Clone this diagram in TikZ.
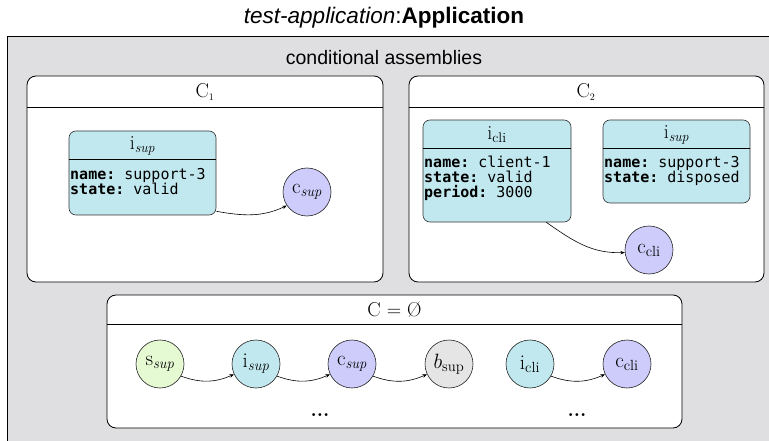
\documentclass[tikz,border=0pt]{standalone}
\usepackage{fontspec}
\setsansfont{Liberation Sans}
\setmonofont{DejaVu Sans Mono}
\usetikzlibrary{arrows.meta}
\definecolor{bggray}{HTML}{DFDFE1}
\definecolor{instcyan}{HTML}{C2E8EF}
\definecolor{conlav}{HTML}{CDCCFB}
\definecolor{startgreen}{HTML}{E5F9D3}
\definecolor{boundgray}{HTML}{E5E5E5}
\tikzset{
  container/.style={draw=black, fill=white, rounded corners=9pt, line width=0.8pt, inner sep=0pt},
  instbox/.style={draw=black!80, fill=instcyan, rounded corners=7pt, line width=0.6pt, inner sep=0pt},
  statecirc/.style={circle, draw=black!85, line width=0.6pt, minimum size=48pt, inner sep=0pt, font=\fontsize{21}{23}\selectfont},
  boxtitle/.style={font=\fontsize{20}{22}\selectfont, inner sep=0pt},
  bodytext/.style={font=\ttfamily\fontsize{15}{14.7}\selectfont, align=left, anchor=north west, inner sep=0pt},
  arr/.style={-{Stealth[length=4.5pt,width=3.5pt]}, line width=0.6pt},
  dotsnode/.style={font=\bfseries\fontsize{20}{22}\selectfont, inner sep=0pt},
}
\begin{document}
\begin{tikzpicture}[x=1pt,y=-1pt]
\useasboundingbox (0,0) rectangle (769,441);
\clip (0,0) rectangle (769,441);
% title
\node[font=\sffamily\fontsize{22.5}{24}\selectfont, inner sep=0pt] (title) at (384,18) {\textit{test-application}:\textbf{Application}};
% outer gray area
\node[draw=black, line width=0.8pt, fill=bggray, minimum width=780pt, minimum height=420pt, inner sep=0pt, anchor=north west] (outer) at (7,36) {};
\node[font=\sffamily\fontsize{19.5}{21}\selectfont, inner sep=0pt] (ca) at (384,58) {conditional assemblies};

% ---- C1
\node[container, minimum width=356pt, minimum height=206pt] (C1) at (205,179) {};
\draw[line width=0.8pt] ([yshift=-32pt]C1.north west) -- ([yshift=-32pt]C1.north east);
\node[boxtitle] (C1t) at (205,92) {C$_{\scriptscriptstyle 1}$};
\node[instbox, minimum width=147pt, minimum height=84pt] (b1) at (142.5,173) {};
\draw[line width=0.6pt] ([yshift=-29pt]b1.north west) -- ([yshift=-29pt]b1.north east);
\node[boxtitle] (b1t) at (142.5,146) {$\mathrm{i}_{\mathit{sup}}$};
\node[bodytext] (b1b) at (70,168) {\textbf{name:} support-3\\\textbf{state:} valid};
\node[statecirc, fill=conlav] (c1) at (307,192) {$\mathrm{c}_{\mathit{sup}}$};
\draw[arr] ([yshift=4pt]b1.south east) to[out=-10,in=205] (c1.214);

% ---- C2
\node[container, minimum width=355pt, minimum height=206pt] (C2) at (586.5,179) {};
\draw[line width=0.8pt] ([yshift=-32pt]C2.north west) -- ([yshift=-32pt]C2.north east);
\node[boxtitle] (C2t) at (586,92) {C$_{\scriptscriptstyle 2}$};
\node[instbox, minimum width=148pt, minimum height=102pt] (b2) at (497,171) {};
\draw[line width=0.6pt] ([yshift=-29pt]b2.north west) -- ([yshift=-29pt]b2.north east);
\node[boxtitle] (b2t) at (497,135) {$\mathrm{i}_{\mathrm{cli}}$};
\node[bodytext] (b2b) at (424,156) {\textbf{name:} client-1\\\textbf{state:} valid\\\textbf{period:} 3000};
\node[instbox, minimum width=147pt, minimum height=83pt] (b3) at (676.5,161.5) {};
\draw[line width=0.6pt] ([yshift=-29pt]b3.north west) -- ([yshift=-29pt]b3.north east);
\node[boxtitle] (b3t) at (676.5,135) {$\mathrm{i}_{\mathit{sup}}$};
\node[bodytext] (b3b) at (604,156) {\textbf{name:} support-3\\\textbf{state:} disposed};
\node[statecirc, fill=conlav] (c2) at (649,250) {$\mathrm{c}_{\mathrm{cli}}$};
\draw[arr] ([xshift=-25pt]b2.south east) to[out=-35,in=182] (c2.186);

% ---- C = empty
\node[container, minimum width=575pt, minimum height=133pt] (C0) at (394.5,361.5) {};
\draw[line width=0.8pt] ([yshift=-30pt]C0.north west) -- ([yshift=-30pt]C0.north east);
\node[boxtitle] (C0t) at (394.5,310) {C = \O};
\node[statecirc, fill=startgreen] (s0) at (160,364) {$\mathrm{s}_{\mathit{sup}}$};
\node[statecirc, fill=instcyan] (i0) at (256,364) {$\mathrm{i}_{\mathit{sup}}$};
\node[statecirc, fill=conlav] (c0) at (352,364) {$\mathrm{c}_{\mathit{sup}}$};
\node[statecirc, fill=boundgray] (bb0) at (449,364) {$b_{\mathrm{sup}}$};
\node[statecirc, fill=instcyan] (ic0) at (530,364) {$\mathrm{i}_{\mathrm{cli}}$};
\node[statecirc, fill=conlav] (cc0) at (627,364) {$\mathrm{c}_{\mathrm{cli}}$};
\draw[arr] (s0.-30) to[bend right=22] (i0.205);
\draw[arr] (i0.-30) to[bend right=22] (c0.205);
\draw[arr] (c0.-30) to[bend right=22] (bb0.205);
\draw[arr] (ic0.-30) to[bend right=22] (cc0.205);
\node[dotsnode] (d1) at (320,415) {...};
\node[dotsnode] (d2) at (577,415) {...};
\end{tikzpicture}
\end{document}
